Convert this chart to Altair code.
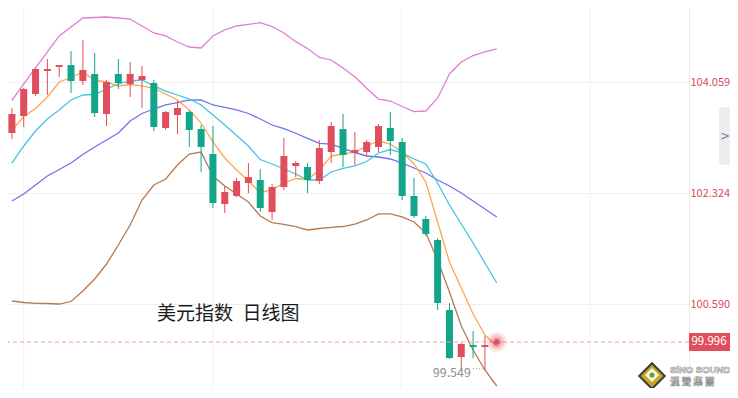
import altair as alt
import pandas as pd

# ---------------- data ----------------
idx = list(range(42))
opens = [103.262, 103.528, 103.871, 104.231, 104.293, 104.324, 104.074, 104.184, 103.559, 104.184,
         104.028, 104.090, 104.043, 103.340, 103.543, 103.590, 103.324, 102.934, 102.153, 102.278,
         102.481, 102.528, 102.028, 102.418, 102.746, 102.731, 102.512, 102.965, 103.324, 102.949,
         102.965, 103.043, 103.340, 103.121, 102.278, 101.918, 101.590, 100.496, 99.762, 99.949,
         99.918, 99.985]
closes = [103.559, 103.950, 104.262, 104.262, 104.324, 104.074, 104.246, 103.574, 104.059, 104.043,
          104.184, 104.153, 103.356, 103.590, 103.653, 103.309, 103.043, 102.168, 102.340, 102.512,
          102.574, 102.090, 102.418, 102.903, 102.793, 102.528, 103.028, 103.371, 102.918, 102.996,
          103.121, 103.371, 103.137, 102.278, 101.965, 101.684, 100.606, 99.746, 99.965, 99.918,
          99.949, 99.996]
highs = [103.652, 103.965, 104.278, 104.418, 104.324, 104.543, 104.715, 104.512, 104.090, 104.418,
         104.371, 104.309, 104.090, 103.606, 103.762, 103.621, 103.387, 103.371, 102.434, 102.559,
         102.793, 102.699, 102.465, 103.184, 102.824, 102.793, 103.153, 103.434, 103.559, 103.278,
         103.153, 103.403, 103.590, 103.184, 102.559, 101.965, 101.621, 100.606, 99.981, 100.168,
         100.090, 100.010]
lows = [103.168, 103.356, 103.840, 103.856, 104.137, 103.887, 104.012, 103.512, 103.371, 103.949,
        103.824, 103.653, 103.293, 103.309, 103.246, 103.043, 102.653, 102.090, 102.012, 102.262,
        102.324, 102.028, 101.903, 102.371, 102.574, 102.324, 102.465, 102.793, 102.731, 102.762,
        102.887, 102.965, 102.918, 102.215, 101.934, 101.653, 100.496, 99.731, 99.559, 99.746,
        99.549, 99.975]

boll_upper = [103.770, 104.028, 104.278, 104.528, 104.778, 104.918, 105.059, 105.067, 105.075, 105.059,
              105.043, 104.934, 104.825, 104.778, 104.684, 104.606, 104.590, 104.778, 104.872, 104.934,
              104.958, 104.986, 104.926, 104.825, 104.689, 104.583, 104.442, 104.403, 104.278, 104.142,
              103.961, 103.793, 103.762, 103.676, 103.595, 103.606, 103.809, 104.184, 104.372, 104.473,
              104.528, 104.575]
boll_mid = [102.200, 102.309, 102.450, 102.590, 102.692, 102.793, 102.926, 103.043, 103.153, 103.262,
            103.450, 103.567, 103.637, 103.700, 103.736, 103.778, 103.778, 103.700, 103.664, 103.622,
            103.567, 103.481, 103.387, 103.329, 103.258, 103.179, 103.101, 103.090, 103.023, 102.954,
            102.903, 102.887, 102.856, 102.793, 102.715, 102.637, 102.528, 102.434, 102.325, 102.200,
            102.075, 101.950]
ma10 = [102.793, 103.059, 103.293, 103.481, 103.622, 103.778, 103.856, 103.864, 103.950, 104.028,
        104.075, 104.090, 103.997, 103.918, 103.856, 103.793, 103.700, 103.543, 103.387, 103.223,
        103.059, 102.848, 102.778, 102.700, 102.622, 102.528, 102.528, 102.653, 102.708, 102.747,
        102.817, 102.950, 103.004, 102.950, 102.856, 102.778, 102.481, 102.137, 101.840, 101.543,
        101.231, 100.918]
ma5 = [103.301, 103.520, 103.645, 103.825, 104.059, 104.129, 104.215, 104.090, 104.059, 103.997,
       104.020, 103.997, 103.958, 103.872, 103.778, 103.622, 103.418, 103.122, 102.872, 102.684,
       102.512, 102.329, 102.379, 102.481, 102.551, 102.536, 102.684, 102.903, 102.934, 102.965,
       103.059, 103.137, 103.090, 102.965, 102.778, 102.497, 101.872, 101.247, 100.840, 100.434,
       100.106, 99.934]
boll_lower = [100.637, 100.614, 100.601, 100.598, 100.590, 100.629, 100.793, 100.981, 101.215, 101.512,
              101.825, 102.215, 102.450, 102.543, 102.762, 102.934, 102.965, 102.590, 102.434, 102.309,
              102.184, 101.965, 101.861, 101.833, 101.801, 101.747, 101.770, 101.786, 101.801, 101.840,
              101.903, 101.997, 101.997, 101.950, 101.872, 101.700, 101.278, 100.778, 100.247, 99.872,
              99.559, 99.309]

ytick_values = [100.590, 102.324, 104.059]
vgrid_positions = [1, 17, 32.9, 48.9]
last_price = [99.996]
last_price_labels = ["99.996"]
low_index = [40]
low_value = [99.549]
low_labels = ["99.549"]
title_text = "美元指数\u2002日线图"

# ---------------- styling ----------------
RED = "#e04e5b"
GREEN = "#12a58a"
FONT = "Noto Sans CJK SC"
PLOT_W = 689

xscale = alt.Scale(domain=[-7 / 12, PLOT_W / 12 - 7 / 12], nice=False, zero=False)
yscale = alt.Scale(domain=[99.2778, 105.3403], nice=False, zero=False)
yaxis = alt.Axis(orient="right", values=ytick_values, format=".3f", title=None,
                 ticks=False, labelColor="#e0485a", labelFont=FONT,
                 labelFontSize=11, labelPadding=1, domainColor="#ebebee",
                 gridColor="#efeff2", labelBaseline="middle", labelAlign="left")


def X(f):
    return alt.X(f, type="quantitative", scale=xscale, axis=None)


def Y(f):
    return alt.Y(f, type="quantitative", scale=yscale, axis=yaxis)


candles = pd.DataFrame({"i": idx, "open": opens, "close": closes, "high": highs, "low": lows})
candles["up"] = candles["close"] >= candles["open"]
up_df = candles[candles["up"]]
down_df = candles[~candles["up"]]

lines_df = pd.DataFrame({"i": idx, "upper": boll_upper, "mid": boll_mid, "ma10": ma10,
                         "ma5": ma5, "lower": boll_lower})

grid_df = pd.DataFrame({"g": vgrid_positions})
price_df = pd.DataFrame({"i": [41], "p": last_price, "label": last_price_labels})
low_df = pd.DataFrame({"i": low_index, "low": low_value, "label": low_labels})

layers = []

# vertical grid lines
layers.append(alt.Chart(grid_df).mark_rule(color="#f0f0f3", strokeWidth=1, clip=True)
              .encode(x=X("g")))

# indicator lines
line_specs = [("upper", "#de7fd6"), ("mid", "#6d73f2"), ("ma10", "#3fc6e2"),
              ("lower", "#b67a50"), ("ma5", "#fca652")]
for col, colr in line_specs:
    layers.append(alt.Chart(lines_df).mark_line(color=colr, strokeWidth=1.3, clip=True)
                  .encode(x=X("i"), y=Y(col)))

# candles
for df, colr in [(up_df, RED), (down_df, GREEN)]:
    layers.append(alt.Chart(df).mark_rule(color=colr, strokeWidth=1, clip=True).encode(
        x=X("i"), y=Y("low"), y2="high:Q"))
    layers.append(alt.Chart(df).mark_bar(color=colr, size=7, clip=True).encode(
        x=X("i"), y=Y("open"), y2="close:Q"))

# last price dashed line
layers.append(alt.Chart(price_df).mark_rule(color="#f2a2aa", strokeDash=[4, 3], strokeWidth=1, clip=True)
              .encode(y=Y("p")))
# glow at last price
for size, op in [(420, 0.12), (220, 0.22), (90, 0.35), (30, 1.0)]:
    layers.append(alt.Chart(price_df).mark_circle(color=RED, size=size, opacity=op, clip=True)
                  .encode(x=X("i"), y=Y("p")))
# last price tag
layers.append(alt.Chart(price_df).mark_rect(color=RED, yOffset=-9, y2Offset=9).encode(
    x=alt.value(PLOT_W), x2=alt.value(740), y=Y("p"), y2="p:Q"))
layers.append(alt.Chart(price_df).mark_text(color="white", font=FONT, fontSize=11.5, align="center",
                                            baseline="middle").encode(
    x=alt.value(709), y=Y("p"), text="label:N"))

# lowest price annotation
layers.append(alt.Chart(low_df).mark_rule(color="#9aa0aa", strokeDash=[1, 2], strokeWidth=1,
                                          xOffset=-12, x2Offset=-1, yOffset=-2, y2Offset=-2).encode(
    x=X("i"), x2="i:Q", y=Y("low")))
layers.append(alt.Chart(low_df).mark_text(color="#8a8e99", font=FONT, fontSize=12.5, align="right",
                                          baseline="middle", dx=-14, dy=2).encode(
    x=X("i"), y=Y("low"), text="label:N"))

# title text
layers.append(alt.Chart(pd.DataFrame({"t": [title_text]})).mark_text(
    font=FONT, fontSize=19, color="#1c1c1c", align="left", baseline="middle").encode(
    x=alt.value(157), y=alt.value(314), text="t:N"))

# side tab
layers.append(alt.Chart(pd.DataFrame({"a": [0]})).mark_rect(color="#eceef1", cornerRadius=3).encode(
    x=alt.value(719), x2=alt.value(736), y=alt.value(107), y2=alt.value(165)))
layers.append(alt.Chart(pd.DataFrame({"t": [">"]})).mark_text(
    font="DejaVu Sans", fontSize=12, color="#7a7f8c", align="center", baseline="middle").encode(
    x=alt.value(725), y=alt.value(136), text="t:N"))

# watermark logo
logo = pd.DataFrame({"a": [0]})
layers.append(alt.Chart(logo).mark_point(shape="diamond", filled=True, color="#c4a91f", size=650,
                                         stroke="#3c3c3c", strokeWidth=2, opacity=1).encode(
    x=alt.value(652), y=alt.value(376)))
layers.append(alt.Chart(logo).mark_point(shape="diamond", filled=True, color="#f4f4ea", size=200,
                                         opacity=1).encode(x=alt.value(652), y=alt.value(375)))
layers.append(alt.Chart(logo).mark_point(shape="circle", filled=True, color="#6c9f3a", size=26,
                                         opacity=1).encode(x=alt.value(652), y=alt.value(375)))
for txt, yy, fs, fnt in [("SiNO SOUND", 370, 9.5, "Liberation Sans"),
                         ("漢 聲 集 團", 382, 9.5, "Noto Sans CJK TC")]:
    layers.append(alt.Chart(pd.DataFrame({"t": [txt]})).mark_text(
        font=fnt, fontSize=fs, fontWeight="bold", color="#ffffff", stroke="#8f8f8f",
        strokeWidth=0.6, align="left", baseline="middle").encode(
        x=alt.value(670), y=alt.value(yy), text="t:N"))

chart = alt.layer(*layers).properties(
    width=PLOT_W, height=388,
    autosize=alt.AutoSizeParams(type="none"),
    padding={"left": -8, "top": -8, "right": 730 - PLOT_W, "bottom": 0},
    background="white",
).configure_view(stroke=None)

chart.save("out.html", embed_options={"renderer": "svg", "actions": False})
